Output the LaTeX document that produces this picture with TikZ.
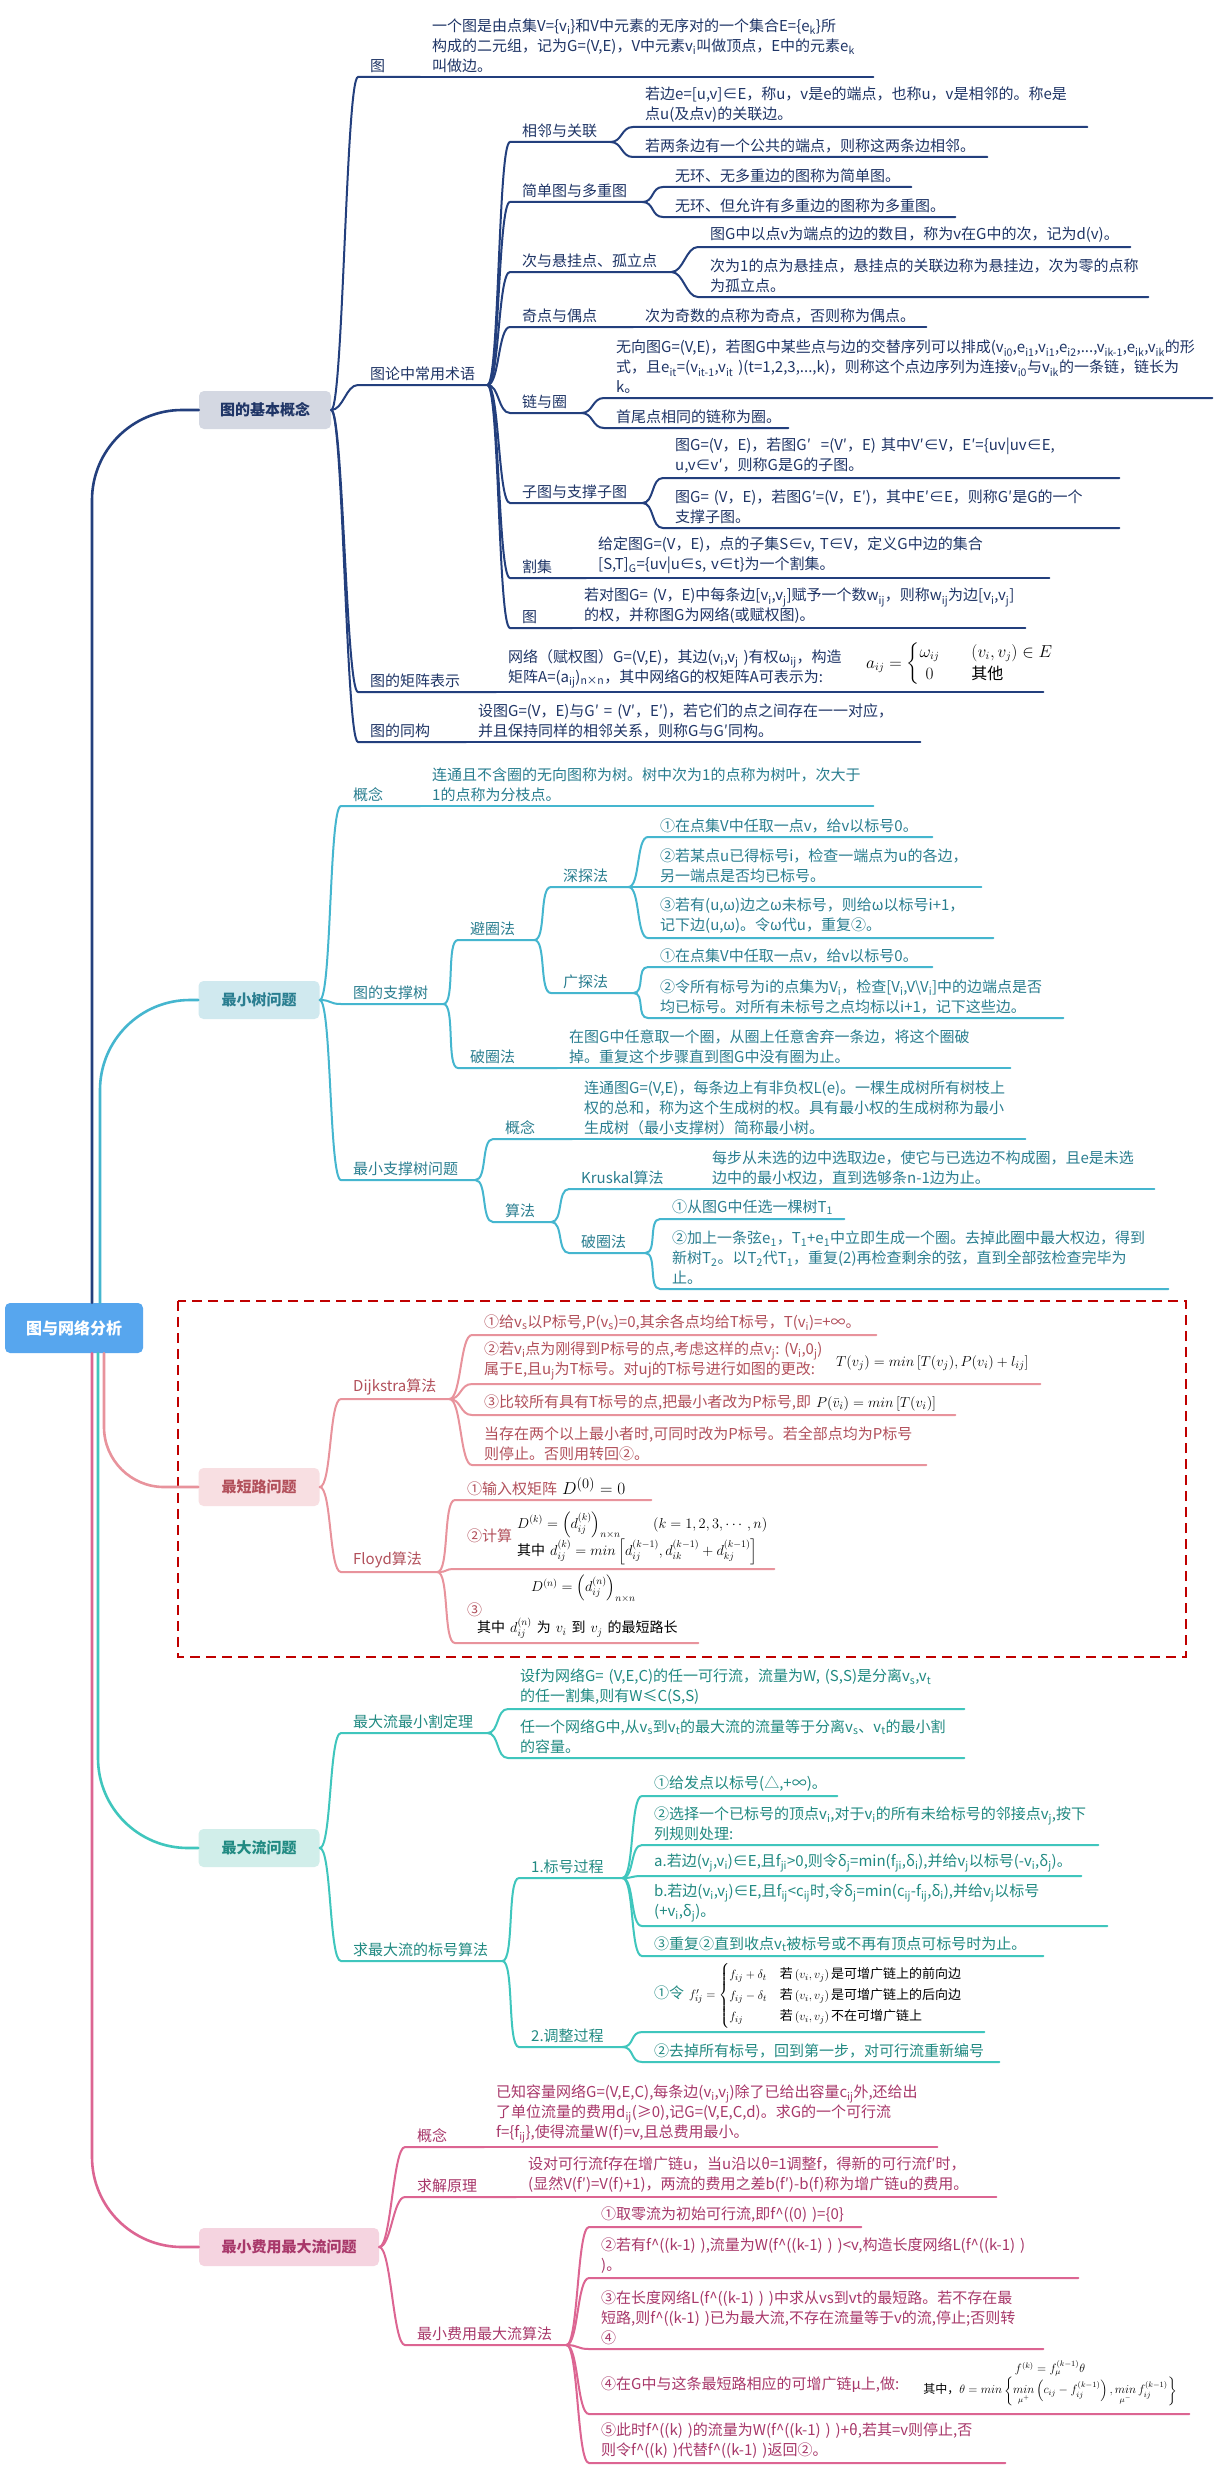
\documentclass[tikz,border=0pt]{standalone}
\usepackage{amsmath}
\usepackage{fontspec}
\setmainfont{Noto Sans CJK SC}
\usepackage{tikz}

\definecolor{basicLine}{HTML}{233F7D}
\definecolor{basicText}{HTML}{1F3566}
\definecolor{basicFill}{HTML}{D4D8E2}
\definecolor{treeLine}{HTML}{45B6CF}
\definecolor{treeText}{HTML}{2A7E90}
\definecolor{treeFill}{HTML}{D0E9EF}
\definecolor{pathLine}{HTML}{E8939C}
\definecolor{pathText}{HTML}{B2505B}
\definecolor{pathFill}{HTML}{F8DFE2}
\definecolor{flowLine}{HTML}{3FC6BD}
\definecolor{flowText}{HTML}{218A82}
\definecolor{flowFill}{HTML}{D1EEEA}
\definecolor{costLine}{HTML}{DC6592}
\definecolor{costText}{HTML}{A8386A}
\definecolor{costFill}{HTML}{F5D4E0}
\definecolor{rootFill}{HTML}{57A6EE}
\definecolor{frameRed}{HTML}{C00000}

\newcommand{\low}[1]{\textsubscript{#1}}
\exhyphenpenalty=10000
\hyphenpenalty=10000
\relpenalty=10000
\binoppenalty=10000
\hbadness=10000

\tikzset{
	topic/.style={
		anchor=south west,
		inner xsep=12pt,
		inner ysep=4pt,
		align=left,
		font=\fontsize{15}{20}\selectfont},
	category/.style={
		rounded corners=5pt,
		minimum height=38pt,
		inner xsep=8pt,
		font=\fontsize{15}{18}\selectfont\bfseries},
	rootBox/.style={
		rounded corners=5pt,
		fill=rootFill,
		text=white,
		minimum width=138pt,
		minimum height=50pt,
		font=\fontsize{16}{19}\selectfont\bfseries},
	formula/.style={
		inner sep=0pt,
		text=black,
		font=\fontsize{15}{20}\selectfont},
	basicTopic/.style={topic, text=basicText},
	treeTopic/.style={topic, text=treeText},
	pathTopic/.style={topic, text=pathText},
	flowTopic/.style={topic, text=flowText},
	costTopic/.style={topic, text=costText},
	basicCategory/.style={category, fill=basicFill, text=basicText},
	treeCategory/.style={category, fill=treeFill, text=treeText},
	pathCategory/.style={category, fill=pathFill, text=pathText},
	flowCategory/.style={category, fill=flowFill, text=flowText},
	costCategory/.style={category, fill=costFill, text=costText},
	basicLink/.style={draw=basicLine, line width=2pt, line cap=round},
	treeLink/.style={draw=treeLine, line width=2pt, line cap=round},
	pathLink/.style={draw=pathLine, line width=2pt, line cap=round},
	flowLink/.style={draw=flowLine, line width=2pt, line cap=round},
	costLink/.style={draw=costLine, line width=2pt, line cap=round},
	rootLink/.style={line width=2.6pt, rounded corners=90pt},
	curvy/.style={
		to path={.. controls ([xshift=#1]\tikztostart) and ([xshift=-#1]\tikztotarget) .. (\tikztotarget)}},
	curvy/.default=12pt,
	redFrame/.style={
		draw=frameRed,
		line width=2.2pt,
		dash pattern=on 10pt off 6pt},
}

\begin{document}
\begin{tikzpicture}[x=1pt, y=-1pt]
	\useasboundingbox [fill=white] (0,0) rectangle (1218,2475);

	% frame round the shortest path part
	\draw [redFrame] (178,1301) rectangle (1186,1657);

	% root
	\node [rootBox] at (74,1328) (root) {图与网络分析};

	% basic concepts
	\node [basicCategory, minimum width=132pt] at (265,410) (basicCat) {图的基本概念};
	\node [basicTopic, text width=38pt] at (358,77) (graph) {图};
	\node [basicTopic, text width=429pt] at (420,77) (graphDef) {一个图是由点集V=\{v\low{i}\}和V中元素的无序对的一个集合E=\{e\low{k}\}所\\构成的二元组，记为G=(V,E)，V中元素v\low{i}叫做顶点，E中的元素e\low{k}\\叫做边。};
	\node [basicTopic, text width=105pt] at (358,385) (terms) {图论中常用术语};
	\node [basicTopic, text width=76pt] at (510,142) (adj) {相邻与关联};
	\node [basicTopic, text width=430pt] at (633,127) (adjA) {若边e=[u,v]∈E，称u，v是e的端点，也称u，v是相邻的。称e是\\点u(及点v)的关联边。};
	\node [basicTopic, text width=330pt] at (633,157) (adjB) {若两条边有一个公共的端点，则称这两条边相邻。};
	\node [basicTopic, text width=108pt] at (510,202) (simple) {简单图与多重图};
	\node [basicTopic, text width=224pt] at (663,187) (simpleA) {无环、无多重边的图称为简单图。};
	\node [basicTopic, text width=268pt] at (663,217) (simpleB) {无环、但允许有多重边的图称为多重图。};
	\node [basicTopic, text width=137pt] at (510,272) (degree) {次与悬挂点、孤立点};
	\node [basicTopic, text width=408pt] at (698,247) (degreeA) {图G中以点v为端点的边的数目，称为v在G中的次，记为d(v)。};
	\node [basicTopic, text width=426pt] at (698,297) (degreeB) {次为1的点为悬挂点，悬挂点的关联边称为悬挂边，次为零的点称\\为孤立点。};
	\node [basicTopic, text width=99pt] at (510,327) (odd) {奇点与偶点};
	\node [basicTopic, text width=269pt] at (633,327) (oddDef) {次为奇数的点称为奇点，否则称为偶点。};
	\node [basicTopic, text width=47pt] at (510,413) (chain) {链与圈};
	\node [basicTopic, text width=584pt] at (604,398) (chainA) {无向图G=(V,E)，若图G中某些点与边的交替序列可以排成(v\low{i0},e\low{i1},v\low{i1},e\low{i2},...,v\low{ik-1},e\low{ik},v\low{ik}的形\\式，且e\low{it}=(v\low{it-1},v\low{it}~)(t=1,2,3,...,k)，则称这个点边序列为连接v\low{i0}与v\low{ik}的一条链，链长为\\k。};
	\node [basicTopic, text width=160pt] at (604,428) (chainB) {首尾点相同的链称为圈。};
	\node [basicTopic, text width=108pt] at (510,503) (sub) {子图与支撑子图};
	\node [basicTopic, text width=432pt] at (663,478) (subA) {图G=(V，E)，若图G′~~=(V′，E)~其中V′∈V，E′=\{uv|uv∈E,\\u,v∈v′，则称G是G的子图。};
	\node [basicTopic, text width=432pt] at (663,528) (subB) {图G=~(V，E)，若图G′=(V，E′)，其中E′∈E，则称G′是G的一个\\支撑子图。};
	\node [basicTopic, text width=52pt] at (510,578) (cut) {割集};
	\node [basicTopic, text width=439pt] at (586,578) (cutDef) {给定图G=(V，E)，点的子集S∈v,~T∈V，定义G中边的集合\\{}[S,T]\low{G}=\{uv|u∈s,~v∈t\}为一个割集。};
	\node [basicTopic, text width=38pt] at (510,628) (weight) {图};
	\node [basicTopic, text width=429pt] at (572,628) (weightDef) {若对图G=~(V，E)中每条边[v\low{i},v\low{j}]赋予一个数w\low{ij}，则称w\low{ij}为边[v\low{i},v\low{j}]\\的权，并称图G为网络(或赋权图)。};
	\node [basicTopic, text width=114pt] at (358,692) (matrix) {图的矩阵表示};
	\node [basicTopic, text width=523pt] at (496,692) (matrixDef) {网络（赋权图）G=(V,E)，其边(v\low{i},v\low{j}~)有权ω\low{ij}，构造\\矩阵A=(a\low{ij})\low{n×n}，其中网络G的权矩阵A可表示为:};
	\node [formula, anchor=west, font=\fontsize{16}{19}\selectfont] at (866,664) (matrixEq) {$a_{ij}=\begin{cases}\omega_{ij} & \quad\left(v_i,v_j\right)\in E\\ \hfil 0 & \quad\text{其他}\end{cases}$};
	\node [basicTopic, text width=84pt] at (358,742) (iso) {图的同构};
	\node [basicTopic, text width=430pt] at (466,742) (isoDef) {设图G=(V，E)与G′~=~(V′，E′)，若它们的点之间存在一一对应，\\并且保持同样的相邻关系，则称G与G′同构。};

	% minimum tree
	\node [treeCategory, minimum width=121pt] at (259,1000) (treeCat) {最小树问题};
	\node [treeTopic, text width=55pt] at (341,806) (treeConcept) {概念};
	\node [treeTopic, text width=429pt] at (420,806) (treeConceptDef) {连通且不含圈的无向图称为树。树中次为1的点称为树叶，次大于\\1的点称为分枝点。};
	\node [treeTopic, text width=78pt] at (341,1004) (span) {图的支撑树};
	\node [treeTopic, text width=52pt] at (458,940) (avoid) {避圈法};
	\node [treeTopic, text width=53pt] at (551,887) (dfs) {深探法};
	\node [treeTopic, text width=260pt] at (648,837) (dfsA) {①在点集V中任取一点v，给v以标号0。};
	\node [treeTopic, text width=309pt] at (648,887) (dfsB) {②若某点u已得标号i，检查一端点为u的各边，\\另一端点是否均已标号。};
	\node [treeTopic, text width=321pt] at (648,938) (dfsC) {③若有(u,ω)边之ω未标号，则给ω以标号i+1，\\记下边(u,ω)。令ω代u，重复②。};
	\node [treeTopic, text width=58pt] at (551,993) (bfs) {广探法};
	\node [treeTopic, text width=260pt] at (648,967) (bfsA) {①在点集V中任取一点v，给v以标号0。};
	\node [treeTopic, text width=391pt] at (648,1018) (bfsB) {②令所有标号为i的点集为V\low{i}，检查[V\low{i},V\textbackslash V\low{i}]中的边端点是否\\均已标号。对所有未标号之点均标以i+1，记下这些边。};
	\node [treeTopic, text width=75pt] at (458,1068) (break) {破圈法};
	\node [treeTopic, text width=429pt] at (557,1068) (breakDef) {在图G中任意取一个圈，从圈上任意舍弃一条边，将这个圈破\\掉。重复这个步骤直到图G中没有圈为止。};
	\node [treeTopic, text width=110pt] at (341,1180) (mst) {最小支撑树问题};
	\node [treeTopic, text width=55pt] at (493,1139) (mstConcept) {概念};
	\node [treeTopic, text width=429pt] at (572,1139) (mstConceptDef) {连通图G=(V,E)，每条边上有非负权L(e)。一棵生成树所有树枝上\\权的总和，称为这个生成树的权。具有最小权的生成树称为最小\\生成树（最小支撑树）简称最小树。};
	\node [treeTopic, text width=34pt] at (493,1222) (algo) {算法};
	\node [treeTopic, text width=107pt] at (569,1189) (kruskal) {Kruskal算法};
	\node [treeTopic, text width=430pt] at (700,1189) (kruskalDef) {每步从未选的边中选取边e，使它与已选边不构成圈，且e是未选\\边中的最小权边，直到选够条n-1边为止。};
	\node [treeTopic, text width=52pt] at (569,1253) (cycle) {破圈法};
	\node [treeTopic, text width=160pt] at (660,1219) (cycleA) {①从图G中任选一棵树T\low{1}};
	\node [treeTopic, text width=484pt] at (660,1289) (cycleB) {②加上一条弦e\low{1}，T\low{1}+e\low{1}中立即生成一个圈。去掉此圈中最大权边，得到\\新树T\low{2}。以T\low{2}代T\low{1}，重复(2)再检查剩余的弦，直到全部弦检查完毕为\\止。};

	% shortest path
	\node [pathCategory, minimum width=121pt] at (259,1487) (pathCat) {最短路问题};
	\node [pathTopic, text width=84pt] at (341,1399) (dijk) {Dijkstra算法};
	\node [pathTopic, text width=380pt] at (472,1335) (dijkA) {①给v\low{s}以P标号,P(v\low{s})=0,其余各点均给T标号，T(v\low{i})=+∞。};
	\node [pathTopic, text width=544pt] at (472,1384) (dijkB) {②若v\low{i}点为刚得到P标号的点,考虑这样的点v\low{j}:~(V\low{i},0\low{j})\\属于E,且u\low{j}为T标号。对uj的T标号进行如图的更改:};
	\node [formula, anchor=west] at (836,1363) (dijkEq) {$T(v_j)=min\left[T(v_j),P(v_i)+l_{ij}\right]$};
	\node [pathTopic, text width=459pt] at (472,1415) (dijkC) {③比较所有具有T标号的点,把最小者改为P标号,即~{\color{black}$P(\bar{v}_i)=min\left[T(v_i)\right]$}};
	\node [pathTopic, text width=430pt] at (472,1465) (dijkD) {当存在两个以上最小者时,可同时改为P标号。若全部点均为P标号\\则停止。否则用转回②。};
	\node [pathTopic, text width=72pt] at (341,1572) (floyd) {Floyd算法};
	\node [pathTopic, text width=172pt] at (455,1500) (floydA) {①输入权矩阵~{\color{black}\fontsize{19}{20}\selectfont$D^{(0)}=0$}};
	\node [pathTopic, text width=295pt] at (455,1569) (floydB) {②计算~{\color{black}\fontsize{14}{16}\selectfont\begin{tabular}{@{}l@{}}$D^{(k)}=\left(d_{ij}^{(k)}\right)_{n\times n}\hspace{30pt}(k=1,2,3,\cdots,n)$\\[6pt]其中~$d_{ij}^{(k)}=min\left[d_{ij}^{(k-1)},d_{ik}^{(k-1)}+d_{kj}^{(k-1)}\right]$\end{tabular}}};
	\node [pathTopic, text width=219pt, font=\fontsize{15}{17}\selectfont] at (455,1643) (floydC) {\hspace*{64pt}{\color{black}\fontsize{14}{15}\selectfont$D^{(n)}=\left(d_{ij}^{(n)}\right)_{n\times n}$}\\③\\\hspace*{10pt}{\color{black}\fontsize{14}{15}\selectfont 其中~$d_{ij}^{(n)}$~为~$v_i$~到~$v_j$~的最短路长}};

	% maximum flow
	\node [flowCategory, minimum width=121pt] at (259,1848) (flowCat) {最大流问题};
	\node [flowTopic, text width=122pt] at (341,1733) (cutThm) {最大流最小割定理};
	\node [flowTopic, text width=432pt] at (508,1709) (cutThmA) {设f为网络G=~(V,E,C)的任一可行流，流量为W,~(S,S)是分离v\low{s},v\low{t}\\的任一割集,则有W≤C(S,S)};
	\node [flowTopic, text width=432pt] at (508,1758) (cutThmB) {任一个网络G中,从v\low{s}到v\low{t}的最大流的流量等于分离v\low{s}、v\low{t}的最小割\\的容量。};
	\node [flowTopic, text width=137pt] at (341,1961) (labelAlg) {求最大流的标号算法};
	\node [flowTopic, text width=79pt] at (519,1878) (mark) {1.标号过程};
	\node [flowTopic, text width=171pt] at (642,1796) (markA) {①给发点以标号(△,+∞)。};
	\node [flowTopic, text width=432pt] at (642,1845) (markB) {②选择一个已标号的顶点v\low{i},对于v\low{i}的所有未给标号的邻接点v\low{j},按下\\列规则处理:};
	\node [flowTopic, text width=415pt] at (642,1876) (markC) {a.若边(v\low{j},v\low{i})∈E,且f\low{ji}>0,则令δ\low{j}=min(f\low{ji},δ\low{i}),并给v\low{j}以标号(-v\low{i},δ\low{j})。};
	\node [flowTopic, text width=441pt] at (642,1926) (markD) {b.若边(v\low{i},v\low{j})∈E,且f\low{ij}<c\low{ij}时,令δ\low{j}=min(c\low{ij}-f\low{ij},δ\low{i}),并给v\low{j}以标号\\(+v\low{i},δ\low{j})。};
	\node [flowTopic, text width=377pt] at (642,1956) (markE) {③重复②直到收点v\low{t}被标号或不再有顶点可标号时为止。};
	\node [flowTopic, text width=79pt] at (519,2047) (adjust) {2.调整过程};
	\node [flowTopic, text width=318pt] at (642,2032) (adjustA) {①令~{\color{black}\fontsize{13}{17.5}\selectfont$f'_{ij}=\begin{cases}f_{ij}+\delta_t & \text{若}\left(v_i,v_j\right)\text{是可增广链上的前向边}\\ f_{ij}-\delta_t & \text{若}\left(v_i,v_j\right)\text{是可增广链上的后向边}\\ f_{ij} & \text{若}\left(v_i,v_j\right)\text{不在可增广链上}\end{cases}$}};
	\node [flowTopic, text width=333pt] at (642,2062) (adjustB) {②去掉所有标号，回到第一步，对可行流重新编号};

	% minimum cost maximum flow
	\node [costCategory, minimum width=180pt] at (289,2247) (costCat) {最小费用最大流问题};
	\node [costTopic, text width=55pt] at (405,2147) (costConcept) {概念};
	\node [costTopic, text width=429pt] at (484,2147) (costConceptDef) {已知容量网络G=(V,E,C),每条边(v\low{i},v\low{j})除了已给出容量c\low{ij}外,还给出\\了单位流量的费用d\low{ij}(≥0),记G=(V,E,C,d)。求G的一个可行流\\f=\{f\low{ij}\},使得流量W(f)=v,且总费用最小。};
	\node [costTopic, text width=87pt] at (405,2197) (principle) {求解原理};
	\node [costTopic, text width=456pt] at (516,2197) (principleDef) {设对可行流f存在增广链u，当u沿以θ=1调整f，得新的可行流f′时，\\(显然V(f′)=V(f)+1)，两流的费用之差b(f′)-b(f)称为增广链u的费用。};
	\node [costTopic, text width=137pt] at (405,2345) (mcmf) {最小费用最大流算法};
	\node [costTopic, text width=248pt] at (589,2227) (mcmfA) {①取零流为初始可行流,即f\textasciicircum((0)~)=\{0\}};
	\node [costTopic, text width=465pt] at (589,2278) (mcmfB) {②若有f\textasciicircum((k-1)~),流量为W(f\textasciicircum((k-1)~)~)<v,构造长度网络L(f\textasciicircum((k-1)~)\\)。};
	\node [costTopic, text width=430pt] at (589,2349) (mcmfC) {③在长度网络L(f\textasciicircum((k-1)~)~)中求从vs到vt的最短路。若不存在最\\短路,则f\textasciicircum((k-1)~)已为最大流,不存在流量等于v的流,停止;否则转\\④};
	\node [costTopic, text width=576pt] at (589,2414) (mcmfD) {④在G中与这条最短路相应的可增广链μ上,做:\\\mbox{}};
	\node [formula, align=center, font=\fontsize{12}{17}\selectfont] at (1050,2383) (mcmfEq) {$f^{(k)}=f_{\mu}^{(k-1)}\theta$\\其中，$\theta=min\left\{\mathop{min}\limits_{\mu^{+}}\left(c_{ij}-f_{ij}^{(k-1)}\right),\mathop{min}\limits_{\mu^{-}}f_{ij}^{(k-1)}\right\}$};
	\node [costTopic, text width=392pt] at (589,2463) (mcmfE) {⑤此时f\textasciicircum((k)~)的流量为W(f\textasciicircum((k-1)~)~)+θ,若其=v则停止,否\\则令f\textasciicircum((k)~)代替f\textasciicircum((k-1)~)返回②。};

	% root to categories
	\draw [basicLink, rootLink] ([xshift=18pt]root.north) |- (basicCat.west);
	\draw [treeLink, rootLink] ([xshift=26pt]root.north) |- (treeCat.west);
	\draw [pathLink, rootLink, rounded corners=60pt] ([xshift=30pt]root.south) |- (pathCat.west);
	\draw [flowLink, rootLink] ([xshift=24pt]root.south) |- (flowCat.west);
	\draw [costLink, rootLink] ([xshift=18pt]root.south) |- (costCat.west);

	% basic concepts links
	\draw [basicLink] (basicCat.east) to [curvy] (graph.south west) -- (graph.south east);
	\draw [basicLink] (graph.south east) -- (graphDef.south west) -- (graphDef.south east);
	\draw [basicLink] (basicCat.east) to [curvy] (terms.south west) -- (terms.south east);
	\draw [basicLink] (terms.south east) to [curvy] (adj.south west) -- (adj.south east);
	\draw [basicLink] (adj.south east) to [curvy] (adjA.south west) -- (adjA.south east);
	\draw [basicLink] (adj.south east) to [curvy] (adjB.south west) -- (adjB.south east);
	\draw [basicLink] (terms.south east) to [curvy] (simple.south west) -- (simple.south east);
	\draw [basicLink] (simple.south east) to [curvy] (simpleA.south west) -- (simpleA.south east);
	\draw [basicLink] (simple.south east) to [curvy] (simpleB.south west) -- (simpleB.south east);
	\draw [basicLink] (terms.south east) to [curvy] (degree.south west) -- (degree.south east);
	\draw [basicLink] (degree.south east) to [curvy] (degreeA.south west) -- (degreeA.south east);
	\draw [basicLink] (degree.south east) to [curvy] (degreeB.south west) -- (degreeB.south east);
	\draw [basicLink] (terms.south east) to [curvy] (odd.south west) -- (odd.south east);
	\draw [basicLink] (odd.south east) -- (oddDef.south west) -- (oddDef.south east);
	\draw [basicLink] (terms.south east) to [curvy] (chain.south west) -- (chain.south east);
	\draw [basicLink] (chain.south east) to [curvy] (chainA.south west) -- (chainA.south east);
	\draw [basicLink] (chain.south east) to [curvy] (chainB.south west) -- (chainB.south east);
	\draw [basicLink] (terms.south east) to [curvy] (sub.south west) -- (sub.south east);
	\draw [basicLink] (sub.south east) to [curvy] (subA.south west) -- (subA.south east);
	\draw [basicLink] (sub.south east) to [curvy] (subB.south west) -- (subB.south east);
	\draw [basicLink] (terms.south east) to [curvy] (cut.south west) -- (cut.south east);
	\draw [basicLink] (cut.south east) -- (cutDef.south west) -- (cutDef.south east);
	\draw [basicLink] (terms.south east) to [curvy] (weight.south west) -- (weight.south east);
	\draw [basicLink] (weight.south east) -- (weightDef.south west) -- (weightDef.south east);
	\draw [basicLink] (basicCat.east) to [curvy] (matrix.south west) -- (matrix.south east);
	\draw [basicLink] (matrix.south east) -- (matrixDef.south west) -- (matrixDef.south east);
	\draw [basicLink] (basicCat.east) to [curvy] (iso.south west) -- (iso.south east);
	\draw [basicLink] (iso.south east) -- (isoDef.south west) -- (isoDef.south east);

	% minimum tree links
	\draw [treeLink] (treeCat.east) to [curvy] (treeConcept.south west) -- (treeConcept.south east);
	\draw [treeLink] (treeConcept.south east) -- (treeConceptDef.south west) -- (treeConceptDef.south east);
	\draw [treeLink] (treeCat.east) to [curvy] (span.south west) -- (span.south east);
	\draw [treeLink] (span.south east) to [curvy] (avoid.south west) -- (avoid.south east);
	\draw [treeLink] (avoid.south east) to [curvy] (dfs.south west) -- (dfs.south east);
	\draw [treeLink] (dfs.south east) to [curvy] (dfsA.south west) -- (dfsA.south east);
	\draw [treeLink] (dfs.south east) to [curvy] (dfsB.south west) -- (dfsB.south east);
	\draw [treeLink] (dfs.south east) to [curvy] (dfsC.south west) -- (dfsC.south east);
	\draw [treeLink] (avoid.south east) to [curvy] (bfs.south west) -- (bfs.south east);
	\draw [treeLink] (bfs.south east) to [curvy] (bfsA.south west) -- (bfsA.south east);
	\draw [treeLink] (bfs.south east) to [curvy] (bfsB.south west) -- (bfsB.south east);
	\draw [treeLink] (span.south east) to [curvy] (break.south west) -- (break.south east);
	\draw [treeLink] (break.south east) -- (breakDef.south west) -- (breakDef.south east);
	\draw [treeLink] (treeCat.east) to [curvy] (mst.south west) -- (mst.south east);
	\draw [treeLink] (mst.south east) to [curvy] (mstConcept.south west) -- (mstConcept.south east);
	\draw [treeLink] (mstConcept.south east) -- (mstConceptDef.south west) -- (mstConceptDef.south east);
	\draw [treeLink] (mst.south east) to [curvy] (algo.south west) -- (algo.south east);
	\draw [treeLink] (algo.south east) to [curvy] (kruskal.south west) -- (kruskal.south east);
	\draw [treeLink] (kruskal.south east) -- (kruskalDef.south west) -- (kruskalDef.south east);
	\draw [treeLink] (algo.south east) to [curvy] (cycle.south west) -- (cycle.south east);
	\draw [treeLink] (cycle.south east) to [curvy] (cycleA.south west) -- (cycleA.south east);
	\draw [treeLink] (cycle.south east) to [curvy] (cycleB.south west) -- (cycleB.south east);

	% shortest path links
	\draw [pathLink] (pathCat.east) to [curvy] (dijk.south west) -- (dijk.south east);
	\draw [pathLink] (dijk.south east) to [curvy] (dijkA.south west) -- (dijkA.south east);
	\draw [pathLink] (dijk.south east) to [curvy] (dijkB.south west) -- (dijkB.south east);
	\draw [pathLink] (dijk.south east) to [curvy] (dijkC.south west) -- (dijkC.south east);
	\draw [pathLink] (dijk.south east) to [curvy] (dijkD.south west) -- (dijkD.south east);
	\draw [pathLink] (pathCat.east) to [curvy] (floyd.south west) -- (floyd.south east);
	\draw [pathLink] (floyd.south east) to [curvy] (floydA.south west) -- (floydA.south east);
	\draw [pathLink] (floyd.south east) to [curvy] (floydB.south west) -- (floydB.south east);
	\draw [pathLink] (floyd.south east) to [curvy] (floydC.south west) -- (floydC.south east);

	% maximum flow links
	\draw [flowLink] (flowCat.east) to [curvy] (cutThm.south west) -- (cutThm.south east);
	\draw [flowLink] (cutThm.south east) to [curvy] (cutThmA.south west) -- (cutThmA.south east);
	\draw [flowLink] (cutThm.south east) to [curvy] (cutThmB.south west) -- (cutThmB.south east);
	\draw [flowLink] (flowCat.east) to [curvy] (labelAlg.south west) -- (labelAlg.south east);
	\draw [flowLink] (labelAlg.south east) to [curvy] (mark.south west) -- (mark.south east);
	\draw [flowLink] (mark.south east) to [curvy] (markA.south west) -- (markA.south east);
	\draw [flowLink] (mark.south east) to [curvy] (markB.south west) -- (markB.south east);
	\draw [flowLink] (mark.south east) to [curvy] (markC.south west) -- (markC.south east);
	\draw [flowLink] (mark.south east) to [curvy] (markD.south west) -- (markD.south east);
	\draw [flowLink] (mark.south east) to [curvy] (markE.south west) -- (markE.south east);
	\draw [flowLink] (labelAlg.south east) to [curvy] (adjust.south west) -- (adjust.south east);
	\draw [flowLink] (adjust.south east) to [curvy] (adjustA.south west) -- (adjustA.south east);
	\draw [flowLink] (adjust.south east) to [curvy] (adjustB.south west) -- (adjustB.south east);

	% minimum cost maximum flow links
	\draw [costLink] (costCat.east) to [curvy] (costConcept.south west) -- (costConcept.south east);
	\draw [costLink] (costConcept.south east) -- (costConceptDef.south west) -- (costConceptDef.south east);
	\draw [costLink] (costCat.east) to [curvy] (principle.south west) -- (principle.south east);
	\draw [costLink] (principle.south east) -- (principleDef.south west) -- (principleDef.south east);
	\draw [costLink] (costCat.east) to [curvy] (mcmf.south west) -- (mcmf.south east);
	\draw [costLink] (mcmf.south east) to [curvy] (mcmfA.south west) -- (mcmfA.south east);
	\draw [costLink] (mcmf.south east) to [curvy] (mcmfB.south west) -- (mcmfB.south east);
	\draw [costLink] (mcmf.south east) to [curvy] (mcmfC.south west) -- (mcmfC.south east);
	\draw [costLink] (mcmf.south east) to [curvy] (mcmfD.south west) -- (mcmfD.south east);
	\draw [costLink] (mcmf.south east) to [curvy] (mcmfE.south west) -- (mcmfE.south east);
\end{tikzpicture}
\end{document}
